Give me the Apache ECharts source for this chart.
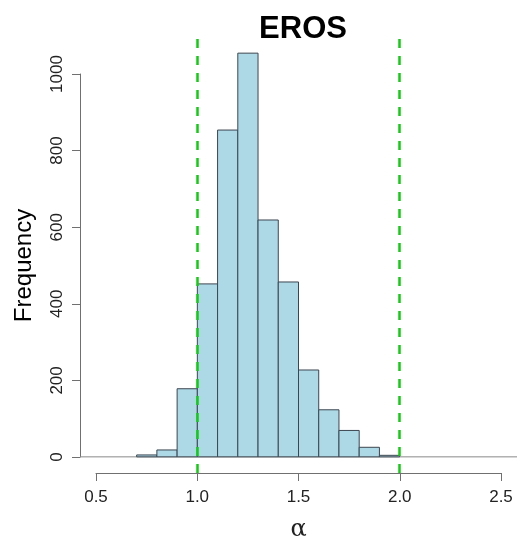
<!DOCTYPE html>
<html>
<head>
<meta charset="utf-8">
<script src="https://cdn.jsdelivr.net/npm/echarts@6/dist/echarts.min.js"></script>
<style>
  html, body { margin: 0; padding: 0; background: #ffffff; }
  #chart { width: 521px; height: 541px; }
</style>
</head>
<body>
<div id="chart"></div>
<script>
// Histogram of alpha estimates, bins of width 0.1
var binStarts = [0.7, 0.8, 0.9, 1.0, 1.1, 1.2, 1.3, 1.4, 1.5, 1.6, 1.7, 1.8, 1.9];
var counts    = [5, 18, 178, 452, 854, 1055, 619, 457, 227, 123, 69, 25, 4];
var binWidth = 0.1;

// Reference thresholds (dashed green lines)
var refLines = [1.0, 2.0];

// Axis tick values
var xTicks = [0.5, 1.0, 1.5, 2.0, 2.5];
var yTicks = [0, 200, 400, 600, 800, 1000];

var xLo = xTicks[0], xHi = xTicks[xTicks.length - 1];
var yLo = yTicks[0], yHi = yTicks[yTicks.length - 1];
var xPad = 0.04 * (xHi - xLo);
var yMaxData = Math.max.apply(null, counts);
var yPad = 0.04 * yMaxData;

var bars = binStarts.map(function (s, i) { return [s, s + binWidth, counts[i]]; });

var chart = echarts.init(document.getElementById('chart'), null, { renderer: 'canvas' });

var axisColor = '#707070';
var textColor = '#222222';
var font = 'Liberation Sans, Arial, sans-serif';

chart.setOption({
  animation: false,
  backgroundColor: '#ffffff',
  title: {
    text: 'EROS',
    left: 298, top: 9, textAlign: 'center',
    textStyle: { fontFamily: font, fontWeight: 'bold', fontSize: 31, color: '#000' }
  },
  grid: [
    // plotting region
    { left: 80, right: 4, top: 37, bottom: 68, outerBoundsMode: 'none', containLabel: false },
    // region spanned by the y ticks
    { left: 96, right: 20, top: 74, bottom: 84, outerBoundsMode: 'none', containLabel: false },
    // region spanned by the x ticks, axis at the bottom of the plot
    { left: 96, right: 20, top: 74, bottom: 68, outerBoundsMode: 'none', containLabel: false }
  ],
  xAxis: [
    { gridIndex: 0, type: 'value', min: xLo - xPad, max: xHi + xPad, show: false },
    { gridIndex: 1, type: 'value', min: xLo, max: xHi, show: false },
    {
      gridIndex: 2, type: 'value', min: xLo, max: xHi, interval: 0.5,
      position: 'bottom',
      name: 'α', nameLocation: 'middle', nameGap: 45,
      nameTextStyle: { fontFamily: 'DejaVu Serif, serif', fontSize: 24, color: textColor },
      axisLine: { show: true, lineStyle: { color: axisColor, width: 1 } },
      axisTick: { show: true, inside: false, length: 8, lineStyle: { color: axisColor } },
      axisLabel: {
        margin: 16, fontFamily: font, fontSize: 17, color: textColor,
        formatter: function (v) { return v.toFixed(1); }
      },
      splitLine: { show: false }
    }
  ],
  yAxis: [
    { gridIndex: 0, type: 'value', min: -yPad, max: yMaxData + yPad, show: false },
    {
      gridIndex: 1, type: 'value', min: yLo, max: yHi, interval: 200,
      position: 'left', offset: 16,
      name: 'Frequency', nameLocation: 'middle', nameGap: 44, nameRotate: 90,
      nameTextStyle: { fontFamily: font, fontSize: 24, color: '#000' },
      axisLine: { show: true, lineStyle: { color: axisColor, width: 1 } },
      axisTick: { show: true, inside: false, length: 8, lineStyle: { color: axisColor } },
      axisLabel: {
        margin: 14, rotate: 90, fontFamily: font, fontSize: 17, color: textColor,
        formatter: function (v) { return String(v); }
      },
      splitLine: { show: false }
    },
    { gridIndex: 2, type: 'value', min: yLo, max: yHi, show: false }
  ],
  series: [
    {
      // zero baseline across the plot
      type: 'line', xAxisIndex: 0, yAxisIndex: 0,
      data: [[xLo - xPad, 0], [xHi + xPad, 0]],
      symbol: 'none', silent: true,
      lineStyle: { color: '#8a8a8a', width: 1 },
      z: 1
    },
    {
      type: 'custom', xAxisIndex: 0, yAxisIndex: 0,
      data: bars,
      renderItem: function (params, api) {
        var p0 = api.coord([api.value(0), api.value(2)]);
        var p1 = api.coord([api.value(1), 0]);
        return {
          type: 'rect',
          shape: { x: p0[0], y: p0[1], width: p1[0] - p0[0], height: p1[1] - p0[1] },
          style: { fill: '#ADD8E6', stroke: '#3c4650', lineWidth: 1 }
        };
      },
      z: 2
    },
    {
      // dashed reference lines spanning the full plot height
      type: 'line', xAxisIndex: 0, yAxisIndex: 0,
      data: [],
      z: 3,
      markLine: {
        silent: true, symbol: 'none', label: { show: false },
        lineStyle: { color: '#11CC11', width: 2.5, type: [9, 8] },
        data: refLines.map(function (v) {
          return [{ coord: [v, -yPad] }, { coord: [v, yMaxData + yPad] }];
        })
      }
    }
  ]
});
</script>
</body>
</html>
